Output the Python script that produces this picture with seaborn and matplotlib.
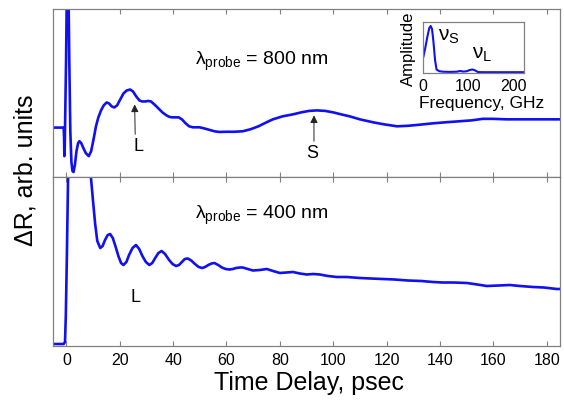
import numpy as np
import pandas as pd
import matplotlib
matplotlib.use('Agg')
import matplotlib.pyplot as plt
import seaborn as sns

# time axis (psec) and reflectivity change, 800 nm probe (arb. units)
t_800 = [-5, -1.0, -0.85, -0.75, -0.6, -0.1, 0.5, 1.1, 1.5, 1.9, 2.3, 2.7, 3.2, 3.8, 4.4, 4.9,
         5.6, 6.4, 7.3, 8.4, 9.3, 10.2, 11.1, 12.0, 13.0, 14.0, 15.1, 16.0, 17.0, 18.0, 19.0,
         20.2, 21.4, 22.6, 23.9, 25.0, 26.2, 27.4, 28.4, 29.6, 30.7, 31.7, 33.0, 34.5, 36.0,
         37.5, 38.6, 39.6, 40.8, 42.1, 43.3, 44.7, 46.0, 47.4, 48.7, 49.9, 51.5, 53.5, 55.5,
         57.4, 60, 63, 66.1, 69, 72, 75, 77.4, 81, 84.9, 88, 91, 93.9, 97, 100, 103, 106.2,
         110, 115, 119, 123.9, 128, 132, 137.4, 142, 147, 152, 156, 160, 165, 170, 174.9, 180, 185]
dr_800 = [49.7, 49.7, 40, 21, 30, 118, 260, 118, 45, 15, 6, 5, 12, 26, 34, 36,
          34, 29, 24, 21, 26, 38, 51, 60, 67, 72, 75, 74, 71, 70, 72,
          78, 84, 87, 88, 86, 81, 77, 76, 76, 76.5, 76, 73, 69, 65,
          62, 60.5, 60, 60, 60, 58, 54, 51, 50, 50, 50, 49, 47.5, 46,
          45.3, 45.5, 45.5, 46, 48, 51, 55, 58, 61, 63, 65, 66.5, 67, 66.5, 65, 63, 61,
          58, 55, 53, 51, 51.5, 52.5, 54, 55, 56, 57, 58.5, 58.5, 58, 58, 58, 58, 58]

# 400 nm probe
t_400 = [-5, -1.0, -0.5, -0.2, 0.2, 0.6, 1.0, 2, 3.5, 5, 6.5, 8, 9.2, 10.0, 10.8, 11.6, 12.7,
         13.6, 14.5, 15.5, 16.4, 17.4, 18.5, 19.5, 20.5, 21.4, 22.5, 23.5, 24.8, 26.1, 27.3,
         28.5, 29.8, 31.1, 32.2, 33.3, 34.5, 35.7, 37.0, 38.5, 39.8, 41.1, 42.2, 43.3, 44.4,
         45.5, 46.8, 48.2, 49.6, 50.9, 52.0, 53.2, 54.4, 55.5, 56.9, 58.3, 59.7, 61.1, 62.4,
         63.6, 65, 66.1, 68, 69.9, 72.5, 75.1, 77.5, 80, 82.5, 84.9, 87.5, 90.1, 92.5, 95, 98,
         101.4, 105, 110, 114, 118.6, 123, 128, 133, 137.4, 141, 145, 150.1, 154, 157.6, 162,
         166.2, 170, 174.9, 179, 183.8, 185]
dr_400 = [2, 2, 4, 30, 90, 160, 220, 280, 300, 280, 240, 200, 169, 145, 122, 105, 98,
          100, 106, 111, 112, 108, 99, 90, 83, 81, 84, 91, 98, 101, 97,
          90, 84, 81, 83, 88, 93, 95, 92, 86, 82, 80, 81, 84, 87,
          87.5, 85.5, 82, 79, 78, 79, 81, 82.5, 83, 81, 78.5, 77, 76.5, 77,
          78, 78.5, 78.5, 77, 75.5, 76, 77, 75, 73, 73.5, 74, 72.5, 71.5, 72, 71.5, 70,
          69, 69, 68, 67.5, 67, 66.5, 65.5, 65, 64, 63.5, 63.5, 63, 61.5, 60, 60.5,
          61, 60, 59, 58.5, 57, 57]

# inset: Fourier spectrum
freq = [0.5, 5, 10, 14, 17, 20, 23, 26.7, 30, 36, 44, 60, 75, 82, 90, 97, 104, 110, 116, 122, 135, 224]
amp = [15.5, 25, 37, 45, 47, 44, 32, 13, 3.5, 1.8, 1.3, 1.1, 1.3, 2.0, 1.4, 1.8, 3.0, 3.5, 2.5, 0.9, 0.8, 0.8]

xticks = [0, 20, 40, 60, 80, 100, 120, 140, 160, 180]
inset_ticks = [0, 100, 200]

sns.set_style('ticks')
plt.rcParams['font.family'] = ['Liberation Sans', 'DejaVu Sans']
plt.rcParams['mathtext.fontset'] = 'custom'
plt.rcParams['mathtext.rm'] = 'Liberation Sans'
plt.rcParams['text.color'] = 'black'
plt.rcParams['xtick.labelcolor'] = 'black'

BLUE = '#1010f0'
GRAY = '#808080'

fig = plt.figure(figsize=(5.64, 4.07), dpi=100)
ax1 = fig.add_axes([53/564, 1-177/407, 507/564, 168/407])
ax2 = fig.add_axes([53/564, 1-346/407, 507/564, 169/407])

df800 = pd.DataFrame({'t': t_800, 'dr': dr_800})
df400 = pd.DataFrame({'t': t_400, 'dr': dr_400})
sns.lineplot(data=df800, x='t', y='dr', ax=ax1, color=BLUE, lw=1.9, estimator=None, sort=False)
sns.lineplot(data=df400, x='t', y='dr', ax=ax2, color=BLUE, lw=1.9, estimator=None, sort=False)

for ax in (ax1, ax2):
    ax.set_xlim(-5, 185)
    ax.set_ylim(0, 169)
    ax.set_xticks(xticks)
    ax.set_yticks([])
    ax.set_xlabel('')
    ax.set_ylabel('')
    for s in ax.spines.values():
        s.set_color(GRAY); s.set_linewidth(0.9); s.set_visible(True)
    ax.tick_params(axis='x', direction='in', top=True, bottom=True, length=3.5,
                   color=GRAY, width=0.8, labelsize=11.5, pad=5)
ax1.tick_params(axis='x', labelbottom=False)

ax1.text(48.1, 113, r'$\mathregular{\lambda_{probe}}$ = 800 nm', fontsize=14, va='baseline')
ax2.text(48.1, 127, r'$\mathregular{\lambda_{probe}}$ = 400 nm', fontsize=14, va='baseline')

arrow = dict(arrowstyle='-|>', color='#222222', lw=0.7, mutation_scale=11, shrinkA=0, shrinkB=0)
ax1.annotate('', xy=(25.6, 73), xytext=(25.8, 43), arrowprops=arrow)
ax1.text(26.9, 30.5, 'L', fontsize=13, ha='center', va='center')
ax1.annotate('', xy=(92.8, 62), xytext=(92.8, 36), arrowprops=arrow)
ax1.text(92, 24, 'S', fontsize=13, ha='center', va='center')
ax2.text(25.9, 49, 'L', fontsize=13, ha='center', va='center')

fig.text(26/564, 1-170/407, '\u0394R, arb. units', rotation=90, fontsize=18, ha='center', va='center')
fig.text(309/564, 1-383/407, 'Time Delay, psec', fontsize=18, ha='center', va='center')

# inset
axi = fig.add_axes([423/564, 1-73/407, 101/564, 51/407])
sns.lineplot(x=freq, y=amp, ax=axi, color=BLUE, lw=1.5, estimator=None, sort=False)
axi.set_xlim(0, 224)
axi.set_ylim(0, 51)
axi.set_xticks(inset_ticks)
axi.set_yticks([])
axi.tick_params(axis='x', length=0, labelsize=11.5, pad=4)
for s in axi.spines.values():
    s.set_color(GRAY); s.set_linewidth(0.9); s.set_visible(True)
axi.text(-0.14, 0.47, 'Amplitude', rotation=90, fontsize=12, ha='center', va='center', transform=axi.transAxes)
axi.text(0.58, -0.59, 'Frequency, GHz', fontsize=12.5, ha='center', va='center', transform=axi.transAxes)
axi.text(34, 36, r'$\mathregular{\nu_S}$', fontsize=15, va='center')
axi.text(108, 18, r'$\mathregular{\nu_L}$', fontsize=15, va='center')

fig.savefig('out.png', dpi=100)
